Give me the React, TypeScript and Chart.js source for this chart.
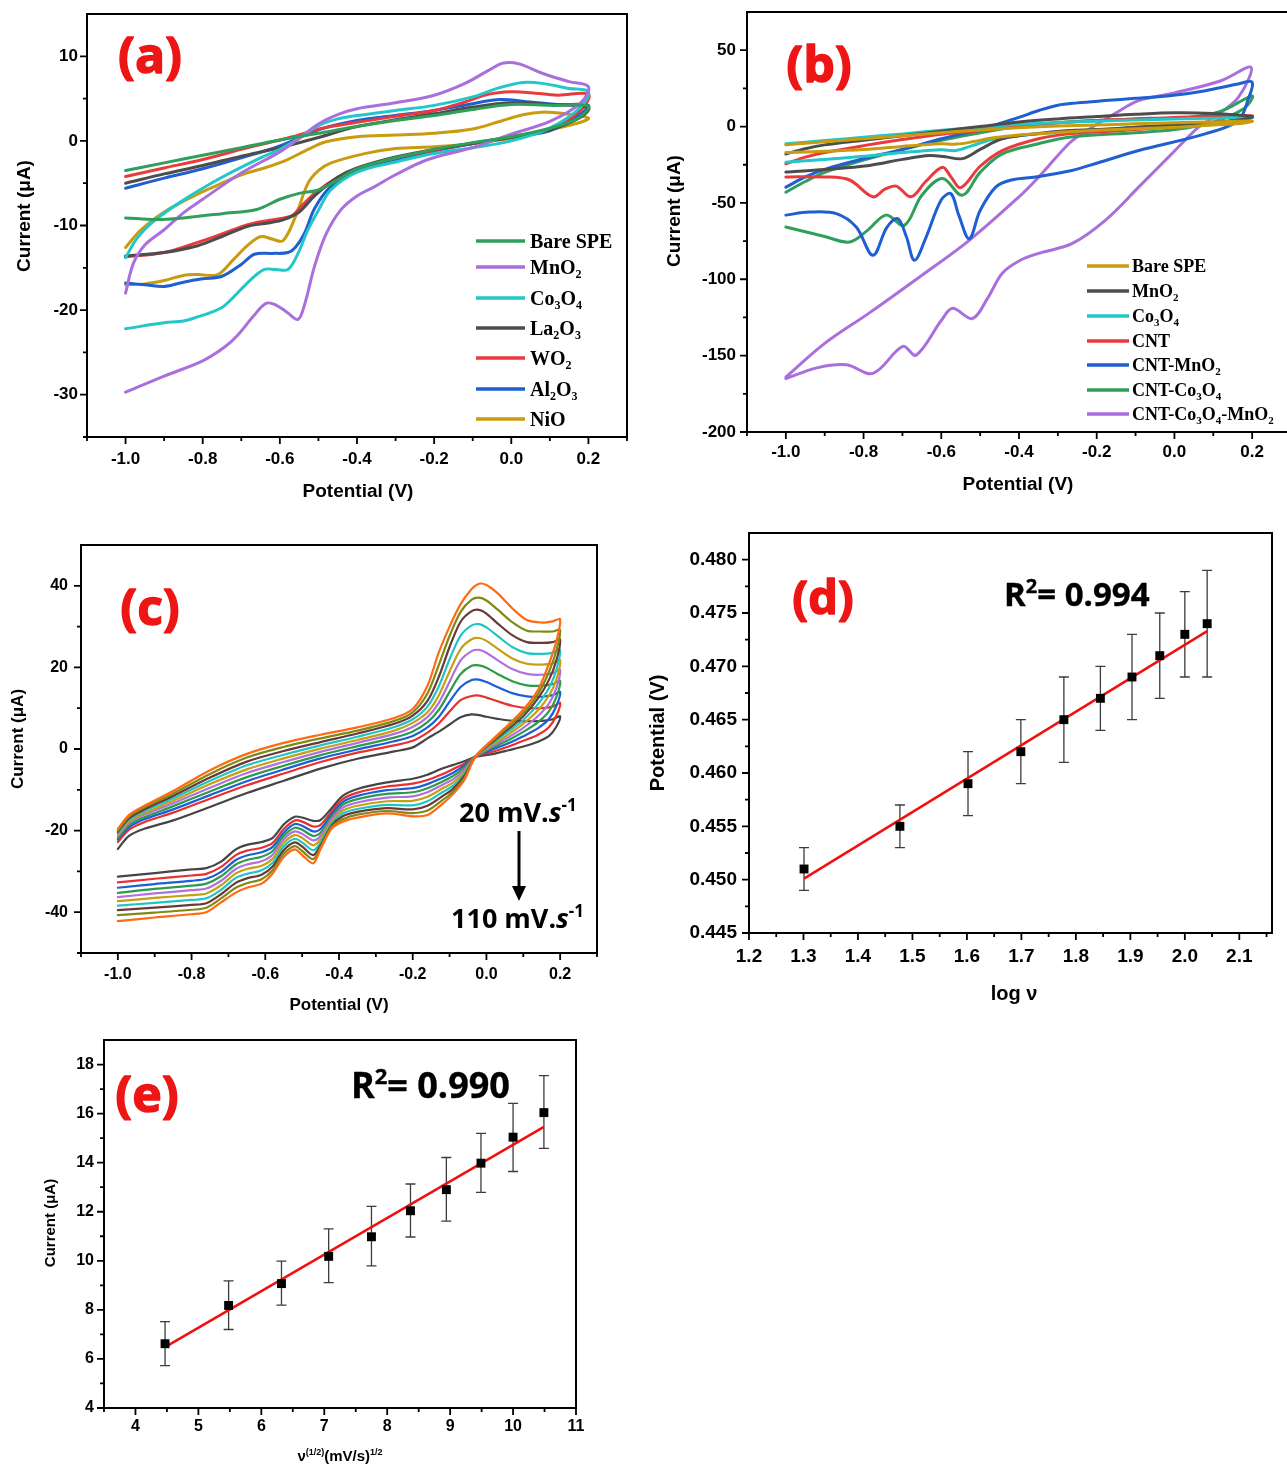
import React, { useEffect, useRef } from "react";
import { Chart, registerables } from "chart.js";

Chart.register(...registerables);

type Pt = [number, number];

const SANS = '"Liberation Sans", Arial, Helvetica, sans-serif';
const SERIF = '"Liberation Serif", "Times New Roman", serif';
const TAG = '"Open Sans", "Liberation Sans", sans-serif';
const RED_TAG = "#ee1515";

/* ---------- (a) oxide-modified SPEs: [potential V, current µA], forward sweep then reverse ---------- */
const A_BARE_SPE: Pt[] = [[-1.0,-3.5],[-0.9,-2.6],[-0.8,-1.7],[-0.7,-0.8],[-0.6,0.1],[-0.5,0.9],[-0.4,1.7],[-0.3,2.4],[-0.2,3.0],[-0.1,3.7],[0.0,4.3],[0.1,4.2],[0.2,4.1],[0.17,2.6],[0.1,1.5],[0.0,0.5],[-0.1,-0.2],[-0.2,-1.0],[-0.3,-2.0],[-0.4,-3.3],[-0.45,-4.6],[-0.5,-5.8],[-0.55,-6.2],[-0.6,-6.9],[-0.66,-8.1],[-0.75,-8.6],[-0.85,-9.1],[-0.92,-9.3],[-1.0,-9.1]];
const A_MNO2: Pt[] = [[-1.0,-18.0],[-0.98,-14.5],[-0.95,-12.3],[-0.9,-10.5],[-0.85,-8.5],[-0.8,-6.9],[-0.7,-3.8],[-0.6,-1.3],[-0.55,0.3],[-0.5,2.0],[-0.45,3.1],[-0.4,3.8],[-0.3,4.5],[-0.2,5.4],[-0.12,6.8],[-0.06,8.3],[-0.02,9.2],[0.02,9.1],[0.08,8.0],[0.15,7.0],[0.2,6.4],[0.18,4.5],[0.1,2.3],[0.0,0.8],[-0.1,-0.8],[-0.216,-2.2],[-0.3,-4.0],[-0.354,-5.4],[-0.4,-6.5],[-0.441,-8.1],[-0.48,-11.0],[-0.51,-14.8],[-0.535,-19.2],[-0.553,-21.1],[-0.58,-20.3],[-0.61,-19.4],[-0.636,-19.2],[-0.67,-20.8],[-0.71,-23.0],[-0.744,-24.4],[-0.8,-26.0],[-0.9,-27.8],[-1.0,-29.7]];
const A_CO3O4: Pt[] = [[-1.0,-13.8],[-0.97,-11.5],[-0.93,-9.6],[-0.85,-7.0],[-0.75,-4.3],[-0.65,-2.0],[-0.6,-1.0],[-0.55,0.3],[-0.5,1.8],[-0.45,2.6],[-0.4,3.0],[-0.3,3.6],[-0.2,4.2],[-0.1,5.2],[-0.03,6.3],[0.03,6.9],[0.08,6.8],[0.15,6.2],[0.2,5.8],[0.18,4.0],[0.1,1.5],[0.0,0.0],[-0.1,-0.8],[-0.2,-1.5],[-0.3,-2.5],[-0.4,-3.7],[-0.468,-5.8],[-0.5,-8.2],[-0.527,-10.5],[-0.555,-13.5],[-0.579,-15.2],[-0.61,-15.2],[-0.64,-15.2],[-0.68,-16.6],[-0.744,-19.5],[-0.78,-20.3],[-0.813,-20.8],[-0.85,-21.3],[-0.9,-21.5],[-1.0,-22.2]];
const A_LA2O3: Pt[] = [[-1.0,-5.0],[-0.9,-3.9],[-0.8,-2.9],[-0.7,-1.8],[-0.6,-0.8],[-0.5,0.4],[-0.4,1.7],[-0.3,2.5],[-0.2,3.2],[-0.1,4.0],[0.0,4.5],[0.1,4.3],[0.2,3.9],[0.18,2.8],[0.1,1.3],[0.0,0.4],[-0.1,-0.3],[-0.2,-1.0],[-0.3,-1.9],[-0.4,-3.2],[-0.45,-4.3],[-0.51,-6.5],[-0.55,-8.4],[-0.59,-9.3],[-0.63,-9.7],[-0.683,-10.1],[-0.75,-11.3],[-0.813,-12.4],[-0.9,-13.2],[-1.0,-13.6]];
const A_WO2: Pt[] = [[-1.0,-4.2],[-0.9,-3.2],[-0.8,-2.2],[-0.7,-1.0],[-0.6,0.1],[-0.55,0.7],[-0.5,1.4],[-0.4,2.2],[-0.3,2.9],[-0.2,3.6],[-0.12,4.6],[-0.06,5.5],[0.0,5.8],[0.05,5.7],[0.12,5.4],[0.2,5.5],[0.18,3.6],[0.1,1.4],[0.0,0.5],[-0.1,-0.3],[-0.2,-1.1],[-0.3,-2.0],[-0.4,-3.3],[-0.45,-4.3],[-0.51,-6.2],[-0.55,-8.0],[-0.571,-8.9],[-0.63,-9.4],[-0.683,-9.9],[-0.75,-11.0],[-0.813,-12.0],[-0.9,-13.2],[-1.0,-13.7]];
const A_AL2O3: Pt[] = [[-1.0,-5.6],[-0.9,-4.4],[-0.8,-3.3],[-0.7,-2.0],[-0.6,-0.6],[-0.5,1.3],[-0.4,2.4],[-0.3,3.0],[-0.2,3.6],[-0.1,4.4],[-0.03,4.9],[0.05,4.6],[0.12,4.3],[0.2,4.2],[0.18,3.2],[0.1,1.2],[0.0,0.5],[-0.1,-0.3],[-0.2,-1.2],[-0.3,-2.3],[-0.4,-3.6],[-0.47,-5.5],[-0.51,-8.0],[-0.536,-10.9],[-0.56,-12.6],[-0.579,-13.2],[-0.62,-13.3],[-0.666,-13.4],[-0.7,-14.6],[-0.75,-16.0],[-0.8,-16.3],[-0.85,-16.7],[-0.9,-17.2],[-0.95,-17.0],[-1.0,-16.8]];
const A_NIO: Pt[] = [[-1.0,-12.6],[-0.96,-10.5],[-0.9,-8.4],[-0.8,-6.0],[-0.75,-5.0],[-0.7,-4.0],[-0.64,-3.2],[-0.58,-2.2],[-0.527,-1.0],[-0.48,-0.1],[-0.4,0.5],[-0.3,0.7],[-0.2,0.9],[-0.1,1.4],[-0.03,2.3],[0.03,3.1],[0.08,3.4],[0.14,3.2],[0.2,2.7],[0.18,2.2],[0.1,1.3],[0.0,0.3],[-0.1,-0.3],[-0.2,-0.7],[-0.3,-0.9],[-0.38,-1.5],[-0.467,-2.6],[-0.5,-3.5],[-0.527,-5.0],[-0.56,-9.0],[-0.592,-11.8],[-0.62,-11.6],[-0.649,-11.3],[-0.68,-12.2],[-0.72,-14.0],[-0.761,-15.8],[-0.813,-15.8],[-0.85,-15.9],[-0.9,-16.5],[-0.95,-16.9],[-1.0,-17.0]];

const A_NAMES = ["Bare SPE", "MnO_{2}", "Co_{3}O_{4}", "La_{2}O_{3}", "WO_{2}", "Al_{2}O_{3}", "NiO"];
const A_COLORS = ["#2f9f5c", "#a96fdc", "#22c7c9", "#4d4d4d", "#ea3a3d", "#1f5fd2", "#c99b0e"];
const A_CURVES = [A_BARE_SPE, A_MNO2, A_CO3O4, A_LA2O3, A_WO2, A_AL2O3, A_NIO];

/* ---------- (b) CNT composites ---------- */
const B_BARE_SPE: Pt[] = [[-1.0,-12.0],[-0.9,-10.0],[-0.8,-8.0],[-0.7,-6.0],[-0.6,-4.0],[-0.5,-2.2],[-0.4,-0.8],[-0.3,0.3],[-0.2,1.0],[-0.1,1.8],[0.0,2.5],[0.1,3.0],[0.2,3.5],[0.17,2.0],[0.1,1.0],[0.0,-0.5],[-0.1,-1.5],[-0.2,-2.5],[-0.3,-3.8],[-0.4,-5.5],[-0.47,-7.5],[-0.52,-10.0],[-0.56,-11.5],[-0.6,-11.3],[-0.65,-12.0],[-0.7,-13.0],[-0.8,-15.0],[-0.9,-16.2],[-1.0,-17.0]];
const B_MNO2: Pt[] = [[-1.0,-18.0],[-0.95,-14.5],[-0.9,-12.0],[-0.8,-9.0],[-0.7,-6.0],[-0.6,-3.0],[-0.5,0.0],[-0.4,3.0],[-0.3,5.0],[-0.2,6.5],[-0.1,8.0],[0.0,9.0],[0.1,8.5],[0.2,6.5],[0.17,4.5],[0.1,2.5],[0.0,1.0],[-0.1,-0.5],[-0.2,-2.0],[-0.272,-2.6],[-0.35,-4.5],[-0.443,-8.0],[-0.5,-15.0],[-0.546,-21.0],[-0.59,-19.8],[-0.63,-19.0],[-0.7,-21.5],[-0.785,-25.5],[-0.9,-28.2],[-1.0,-29.8]];
const B_CO3O4: Pt[] = [[-1.0,-11.3],[-0.9,-9.2],[-0.8,-7.0],[-0.7,-4.8],[-0.6,-2.5],[-0.5,-0.5],[-0.4,1.5],[-0.3,2.6],[-0.2,3.5],[-0.1,4.3],[0.0,5.0],[0.1,5.5],[0.2,6.0],[0.17,4.0],[0.1,2.5],[0.0,1.0],[-0.1,-0.5],[-0.2,-2.0],[-0.3,-3.8],[-0.4,-6.0],[-0.47,-8.5],[-0.52,-12.5],[-0.562,-15.7],[-0.6,-15.2],[-0.65,-16.0],[-0.7,-17.0],[-0.8,-19.5],[-0.9,-21.5],[-1.0,-23.3]];
const B_CNT: Pt[] = [[-1.0,-24.4],[-0.95,-20.0],[-0.9,-17.0],[-0.8,-12.5],[-0.7,-8.5],[-0.6,-5.0],[-0.53,-3.5],[-0.4,0.5],[-0.3,2.5],[-0.2,4.0],[-0.1,5.0],[0.0,6.0],[0.1,6.5],[0.2,7.0],[0.17,5.0],[0.1,2.5],[0.0,0.0],[-0.1,-2.0],[-0.15,-2.8],[-0.272,-4.8],[-0.35,-8.0],[-0.443,-15.7],[-0.5,-26.0],[-0.55,-40.0],[-0.575,-33.0],[-0.597,-26.6],[-0.64,-36.0],[-0.678,-46.0],[-0.716,-39.0],[-0.745,-41.0],[-0.776,-46.0],[-0.836,-35.0],[-0.9,-33.0],[-1.0,-33.0]];
const B_CNT_MNO2: Pt[] = [[-1.0,-39.7],[-0.95,-33.0],[-0.9,-28.0],[-0.8,-21.0],[-0.7,-15.0],[-0.6,-8.0],[-0.5,-2.0],[-0.45,2.0],[-0.4,6.0],[-0.349,10.5],[-0.3,14.0],[-0.25,15.5],[-0.178,17.0],[-0.1,18.5],[-0.007,20.3],[0.08,23.5],[0.164,27.9],[0.2,29.0],[0.19,18.0],[0.164,3.9],[0.079,-4.8],[-0.092,-15.7],[-0.2,-24.0],[-0.264,-28.8],[-0.357,-33.0],[-0.42,-35.0],[-0.46,-39.7],[-0.5,-55.0],[-0.528,-73.4],[-0.555,-58.0],[-0.575,-44.0],[-0.6,-48.0],[-0.64,-73.0],[-0.669,-87.6],[-0.69,-72.0],[-0.712,-60.3],[-0.74,-66.0],[-0.776,-84.3],[-0.819,-65.8],[-0.87,-57.0],[-0.94,-56.0],[-1.0,-58.0]];
const B_CNT_CO3O4: Pt[] = [[-1.0,-43.0],[-0.95,-36.0],[-0.9,-30.0],[-0.8,-22.0],[-0.7,-15.0],[-0.6,-9.0],[-0.5,-4.0],[-0.4,0.0],[-0.3,2.5],[-0.2,4.0],[-0.1,5.0],[0.036,6.0],[0.12,10.0],[0.2,20.0],[0.18,12.0],[0.1,3.0],[0.0,-2.0],[-0.1,-4.0],[-0.272,-7.0],[-0.35,-11.3],[-0.443,-17.9],[-0.5,-30.0],[-0.546,-45.0],[-0.597,-34.0],[-0.65,-45.0],[-0.695,-64.7],[-0.742,-58.0],[-0.79,-68.0],[-0.836,-75.6],[-0.9,-72.0],[-1.0,-65.8]];
const B_CNT_CO3O4_MNO2: Pt[] = [[-1.0,-164.0],[-0.9,-142.0],[-0.785,-122.0],[-0.656,-98.5],[-0.528,-74.5],[-0.4,-46.0],[-0.349,-33.0],[-0.272,-11.3],[-0.238,-4.7],[-0.15,9.0],[-0.092,17.0],[0.0,22.0],[0.12,30.0],[0.197,38.8],[0.164,19.0],[0.1,6.0],[0.062,-0.4],[-0.007,-17.9],[-0.092,-39.7],[-0.178,-61.4],[-0.264,-76.7],[-0.349,-83.0],[-0.4,-88.0],[-0.443,-96.0],[-0.48,-112.0],[-0.52,-125.7],[-0.571,-119.0],[-0.6,-127.0],[-0.665,-149.7],[-0.699,-144.0],[-0.776,-161.6],[-0.844,-156.0],[-0.92,-158.0],[-1.0,-165.0]];

const B_NAMES = ["Bare SPE", "MnO_{2}", "Co_{3}O_{4}", "CNT", "CNT-MnO_{2}", "CNT-Co_{3}O_{4}", "CNT-Co_{3}O_{4}-MnO_{2}"];
const B_COLORS = ["#c99b0e", "#4d4d4d", "#22c7c9", "#ea3a3d", "#1f5fd2", "#2f9f5c", "#a96fdc"];
const B_CURVES = [B_BARE_SPE, B_MNO2, B_CO3O4, B_CNT, B_CNT_MNO2, B_CNT_CO3O4, B_CNT_CO3O4_MNO2];

/* ---------- (c) scan-rate series, 20 → 110 mV/s ---------- */
const C_RATES = [20, 30, 40, 50, 60, 70, 80, 90, 100, 110];
const C_COLORS = ["#454545", "#e8302e", "#1b5fd6", "#2e9a48", "#b070e0", "#c5a012", "#20c4c4", "#6b3838", "#7f8a14", "#ff6a12"];
const C_FWD_E = [-1.0, -0.97, -0.93, -0.85, -0.75, -0.65, -0.55, -0.45, -0.35, -0.25, -0.2, -0.16, -0.13, -0.1, -0.07, -0.04, -0.02, 0.0, 0.03, 0.07, 0.11, 0.15, 0.18, 0.2];
const C_FWD_20 = [-24.5,-21.3,-19.6,-17.5,-14.2,-10.8,-7.8,-4.8,-2.4,-0.6,0.4,2.6,4.2,6.0,7.8,8.5,8.3,7.9,7.4,6.9,6.8,6.9,7.3,8.0];
const C_FWD_30 = [-22.8,-19.8,-18.0,-15.6,-12.2,-8.9,-6.0,-3.2,-0.9,0.9,2.0,4.0,6.2,9.2,12.0,13.0,13.1,12.6,11.7,10.6,10.0,10.0,10.4,11.3];
const C_FWD_40 = [-22.2,-19.2,-17.3,-14.8,-11.3,-7.9,-5.0,-2.3,-0.1,1.9,3.2,5.3,7.8,11.6,15.2,16.9,17.0,16.4,15.2,13.7,12.9,12.8,13.2,14.0];
const C_FWD_50 = [-21.8,-18.7,-16.8,-14.0,-10.4,-6.9,-4.1,-1.5,0.7,2.8,4.3,6.6,9.5,14.0,18.4,20.4,20.5,19.9,18.4,16.6,15.6,15.5,15.9,16.7];
const C_FWD_60 = [-21.3,-18.2,-16.2,-13.3,-9.5,-5.9,-3.2,-0.7,1.5,3.7,5.4,7.8,11.2,16.5,21.7,24.0,24.3,23.6,21.8,19.6,18.4,18.2,18.6,19.4];
const C_FWD_70 = [-21.0,-17.8,-15.8,-12.7,-8.6,-5.0,-2.3,0.1,2.2,4.5,6.4,9.0,13.0,19.0,24.5,26.9,27.2,26.5,24.6,22.2,20.9,20.7,21.0,21.8];
const C_FWD_80 = [-20.6,-17.4,-15.3,-12.1,-7.8,-4.0,-1.4,0.9,3.0,5.4,7.3,10.4,15.2,22.0,27.8,30.3,30.6,29.8,27.7,25.0,23.5,23.3,23.6,24.3];
const C_FWD_90 = [-20.3,-17.0,-14.9,-11.5,-7.0,-3.1,-0.5,1.7,3.8,6.2,8.2,11.8,17.5,25.0,31.2,33.8,34.1,33.2,30.8,27.9,26.2,26.0,26.2,26.8];
const C_FWD_100 = [-20.0,-16.6,-14.4,-10.9,-6.1,-2.1,0.5,2.6,4.5,6.9,9.0,13.6,20.4,27.7,33.6,36.6,37.1,36.4,34.2,31.1,29.0,28.8,28.8,29.2];
const C_FWD_110 = [-19.6,-16.2,-14.0,-10.3,-5.2,-1.2,1.5,3.5,5.3,7.6,9.8,15.5,23.5,30.0,35.5,39.2,40.5,40.2,38.2,34.5,31.6,31.0,31.3,31.8];
const C_REV_E = [0.2, 0.19, 0.17, 0.14, 0.1, 0.06, 0.02, -0.03, -0.06, -0.09, -0.12, -0.16, -0.2, -0.27, -0.35, -0.39, -0.42, -0.45, -0.47, -0.5, -0.52, -0.55, -0.58, -0.61, -0.65, -0.68, -0.72, -0.76, -0.8, -0.9, -1.0];
const C_REV_20 = [8.0,5.5,3.2,1.8,0.6,-0.3,-1.2,-1.9,-3.0,-3.9,-4.8,-6.3,-7.3,-8.2,-9.8,-11.5,-14.5,-17.4,-17.6,-16.8,-16.6,-18.5,-21.8,-22.8,-23.5,-24.6,-27.6,-29.2,-29.5,-30.4,-31.3];
const C_REV_30 = [11.3,8.2,5.4,3.5,2.0,0.6,-0.6,-1.9,-3.6,-4.9,-6.2,-7.6,-8.5,-9.2,-10.7,-12.3,-15.3,-18.6,-19.0,-17.8,-17.5,-19.6,-23.0,-24.2,-24.9,-26.0,-28.9,-30.6,-31.0,-31.8,-32.7];
const C_REV_40 = [14.0,10.6,7.4,5.1,3.1,1.4,0.0,-1.9,-4.1,-5.8,-7.1,-8.6,-9.6,-10.1,-11.5,-13.0,-16.0,-19.6,-20.2,-18.8,-18.4,-20.5,-24.0,-25.3,-26.1,-27.2,-30.1,-31.8,-32.3,-33.1,-34.0];
const C_REV_50 = [16.7,12.8,9.3,6.6,4.2,2.2,0.5,-1.9,-4.6,-6.6,-8.0,-9.6,-10.6,-11.0,-12.3,-13.7,-16.6,-20.5,-21.3,-19.8,-19.3,-21.3,-25.0,-26.4,-27.2,-28.3,-31.2,-33.0,-33.5,-34.3,-35.3];
const C_REV_60 = [19.4,15.0,11.2,8.1,5.2,2.9,0.9,-1.9,-5.1,-7.4,-8.8,-10.6,-11.6,-11.9,-13.1,-14.4,-17.2,-21.3,-22.4,-20.8,-20.2,-22.1,-25.9,-27.5,-28.3,-29.4,-32.3,-34.2,-34.6,-35.4,-36.3];
const C_REV_70 = [21.8,17.1,13.1,9.5,6.2,3.6,1.3,-1.9,-5.6,-8.2,-9.7,-11.7,-12.7,-12.8,-13.9,-15.1,-17.8,-22.1,-23.6,-21.8,-21.1,-23.0,-26.9,-28.6,-29.4,-30.5,-33.4,-35.4,-35.8,-36.5,-37.3];
const C_REV_80 = [24.3,19.5,15.0,11.0,7.1,4.3,1.7,-1.9,-6.1,-9.0,-10.6,-12.8,-13.8,-13.7,-14.7,-15.8,-18.3,-22.9,-24.8,-22.9,-22.0,-23.9,-27.9,-29.7,-30.6,-31.6,-34.5,-36.6,-37.0,-37.7,-38.4];
const C_REV_90 = [26.8,21.8,17.0,12.4,8.0,4.9,2.0,-1.9,-6.6,-9.7,-11.6,-13.9,-14.8,-14.5,-15.4,-16.5,-18.8,-23.6,-26.0,-23.9,-22.9,-24.8,-28.8,-30.8,-31.7,-32.8,-35.6,-37.8,-38.2,-38.9,-39.5];
const C_REV_100 = [29.2,24.2,19.0,13.5,8.8,5.5,2.3,-1.9,-7.1,-10.4,-12.6,-15.1,-15.7,-15.2,-16.1,-17.2,-19.1,-24.1,-27.0,-25.0,-23.8,-25.7,-29.7,-31.9,-32.9,-34.0,-36.6,-38.9,-39.4,-40.1,-40.7];
const C_REV_110 = [31.8,26.5,21.0,14.5,9.6,6.0,2.6,-1.9,-7.6,-11.0,-13.5,-16.2,-16.5,-15.8,-16.8,-17.8,-19.5,-24.5,-28.0,-26.0,-24.6,-26.5,-30.5,-33.0,-34.0,-35.2,-37.6,-40.0,-40.5,-41.3,-42.2];
const C_FWD = [C_FWD_20, C_FWD_30, C_FWD_40, C_FWD_50, C_FWD_60, C_FWD_70, C_FWD_80, C_FWD_90, C_FWD_100, C_FWD_110];
const C_REV = [C_REV_20, C_REV_30, C_REV_40, C_REV_50, C_REV_60, C_REV_70, C_REV_80, C_REV_90, C_REV_100, C_REV_110];

/* ---------- (d) peak potential vs log(scan rate) ---------- */
const D_LOGV = [1.301, 1.477, 1.602, 1.699, 1.778, 1.845, 1.903, 1.954, 2.0, 2.041];
const D_EP = [0.451, 0.455, 0.459, 0.462, 0.465, 0.467, 0.469, 0.471, 0.473, 0.474];
const D_HI = [0.453, 0.457, 0.462, 0.465, 0.469, 0.470, 0.473, 0.475, 0.477, 0.479];
const D_LO = [0.449, 0.453, 0.456, 0.459, 0.461, 0.464, 0.465, 0.467, 0.469, 0.469];
const D_FIT: Pt[] = [[1.301, 0.4501], [2.041, 0.4733]];

/* ---------- (e) peak current vs square root of scan rate ---------- */
const E_SQRTV = [4.47, 5.48, 6.32, 7.07, 7.75, 8.37, 8.94, 9.49, 10.0, 10.49];
const E_IP = [6.62, 8.18, 9.07, 10.18, 10.98, 12.04, 12.9, 13.98, 15.04, 16.04];
const E_HI = [7.52, 9.18, 9.99, 11.3, 12.22, 13.13, 14.21, 15.19, 16.42, 17.55];
const E_LO = [5.73, 7.2, 8.19, 9.11, 9.79, 10.97, 11.62, 12.79, 13.64, 14.58];
const E_FIT: Pt[] = [[4.47, 6.48], [10.49, 15.46]];

/* ---------- text helpers: _{..} subscript, ^{..} superscript, ~{..} italic ---------- */
type Txt = { s: string; x: number; y: number; size: number; font: string; weight?: string; color?: string; align?: "left" | "center" | "right"; rot?: boolean; heavy?: number };

function segments(s: string) {
  const out: { t: string; k: number }[] = [];
  const re = /([_^~])\{([^}]*)\}/g;
  let last = 0;
  let m: RegExpExecArray | null;
  while ((m = re.exec(s))) {
    if (m.index > last) out.push({ t: s.slice(last, m.index), k: 0 });
    out.push({ t: m[2], k: m[1] === "_" ? 1 : m[1] === "^" ? 2 : 3 });
    last = re.lastIndex;
  }
  if (last < s.length) out.push({ t: s.slice(last), k: 0 });
  return out;
}

function drawRich(ctx: CanvasRenderingContext2D, t: Txt) {
  const segs = segments(t.s);
  const w = t.weight ?? "bold";
  const fontFor = (k: number) => `${k === 3 ? "italic " : ""}${w} ${k === 1 || k === 2 ? Math.round(t.size * 0.62) : t.size}px ${t.font}`;
  let total = 0;
  for (const p of segs) { ctx.font = fontFor(p.k); total += ctx.measureText(p.t).width; }
  ctx.save();
  ctx.fillStyle = t.color ?? "#000";
  ctx.strokeStyle = t.color ?? "#000";
  ctx.lineJoin = "round";
  ctx.textAlign = "left";
  ctx.textBaseline = "alphabetic";
  let x0: number;
  let y0: number;
  if (t.rot) {
    ctx.translate(t.x, t.y);
    ctx.rotate(-Math.PI / 2);
    x0 = -total / 2;
    y0 = t.size * 0.36;
  } else {
    x0 = t.align === "center" ? t.x - total / 2 : t.align === "right" ? t.x - total : t.x;
    y0 = t.y;
  }
  for (const p of segs) {
    ctx.font = fontFor(p.k);
    const dy = p.k === 1 ? t.size * 0.24 : p.k === 2 ? -t.size * 0.4 : 0;
    if (t.heavy) {
      ctx.lineWidth = t.heavy;
      ctx.strokeText(p.t, x0, y0 + dy);
    }
    ctx.fillText(p.t, x0, y0 + dy);
    x0 += ctx.measureText(p.t).width;
  }
  ctx.restore();
}

/* ---------- panel description ---------- */
type Axis = { min: number; max: number; major: number[]; minor: number[]; digits: number };
type Legend = { x1: number; x2: number; tx: number; rows: number[]; names: string[]; colors: string[]; size: number };
type Panel = {
  box: [number, number, number, number];
  area: [number, number, number, number];
  x: Axis;
  y: Axis;
  tick: number;
  xGap: number;
  yGap: number;
  datasets: any[];
  texts: Txt[];
  legend?: Legend;
  under?: (chart: any) => void;
  extra?: (ctx: CanvasRenderingContext2D) => void;
};

const cv = (pts: Pt[], color: string, width: number, tension = 0.35) => ({
  data: pts.map(([x, y]) => ({ x, y })),
  showLine: true,
  borderColor: color,
  backgroundColor: color,
  borderWidth: width,
  pointRadius: 0,
  tension,
  borderJoinStyle: "round",
  borderCapStyle: "round",
});

const steps = (a: number, b: number, d: number) => {
  const out: number[] = [];
  for (let v = a; v <= b + d * 1e-6; v += d) out.push(Math.round(v * 1e6) / 1e6);
  return out;
};

const errorBars = (xv: number[], hi: number[], lo: number[]) => (chart: any) => {
  const ctx = chart.ctx as CanvasRenderingContext2D;
  const xs = chart.scales.x;
  const ys = chart.scales.y;
  ctx.save();
  ctx.strokeStyle = "#3c3c3c";
  ctx.lineWidth = 1.3;
  ctx.beginPath();
  xv.forEach((v, i) => {
    const px = xs.getPixelForValue(v);
    const ph = ys.getPixelForValue(hi[i]);
    const pl = ys.getPixelForValue(lo[i]);
    ctx.moveTo(px, ph); ctx.lineTo(px, pl);
    ctx.moveTo(px - 5, ph); ctx.lineTo(px + 5, ph);
    ctx.moveTo(px - 5, pl); ctx.lineTo(px + 5, pl);
  });
  ctx.stroke();
  ctx.restore();
};

const fitSet = (pts: Pt[]) => ({
  data: pts.map(([x, y]) => ({ x, y })),
  showLine: true,
  borderColor: "#f01010",
  borderWidth: 2.5,
  pointRadius: 0,
});
const markSet = (xv: number[], yv: number[]) => ({
  data: xv.map((x, i) => ({ x, y: yv[i] })),
  showLine: false,
  pointStyle: "rect",
  pointRadius: 6.3,
  pointBackgroundColor: "#000",
  pointBorderColor: "#000",
  pointBorderWidth: 0,
});

const POT_AXIS: Axis = { min: -1.1, max: 0.3, major: steps(-1.0, 0.2, 0.2), minor: steps(-1.1, 0.3, 0.2), digits: 1 };

const PANELS: Panel[] = [
  {
    box: [0, 0, 640, 510],
    area: [87, 14, 627, 437],
    x: POT_AXIS,
    y: { min: -35, max: 15, major: steps(-30, 10, 10), minor: steps(-35, 5, 10), digits: 0 },
    tick: 17, xGap: 22, yGap: 9,
    datasets: A_CURVES.map((c, i) => cv(c, A_COLORS[i], 3)),
    texts: [
      { s: "(a)", x: 150, y: 73, size: 50, font: TAG, color: RED_TAG, align: "center", heavy: 1.4 },
      { s: "Current (μA)", x: 23, y: 216, size: 19, font: SANS, rot: true },
      { s: "Potential (V)", x: 358, y: 497, size: 19, font: SANS, align: "center" },
    ],
    legend: { x1: 476, x2: 525, tx: 530, rows: [241, 267, 298, 328, 358, 389, 419], names: A_NAMES, colors: A_COLORS, size: 20 },
  },
  {
    box: [640, 0, 660, 510],
    area: [747, 12, 1291, 432],
    x: POT_AXIS,
    y: { min: -200, max: 75, major: steps(-200, 50, 50), minor: steps(-175, 25, 50), digits: 0 },
    tick: 17, xGap: 20, yGap: 11,
    datasets: B_CURVES.map((c, i) => cv(c, B_COLORS[i], 3)),
    texts: [
      { s: "(b)", x: 819, y: 82, size: 50, font: TAG, color: RED_TAG, align: "center", heavy: 1.4 },
      { s: "Current (μA)", x: 673, y: 211, size: 19, font: SANS, rot: true },
      { s: "Potential (V)", x: 1018, y: 490, size: 19, font: SANS, align: "center" },
    ],
    legend: { x1: 1087, x2: 1129, tx: 1132, rows: [266, 291, 316, 341, 365, 390, 414], names: B_NAMES, colors: B_COLORS, size: 18 },
  },
  {
    box: [0, 520, 640, 510],
    area: [81, 545, 597, 953],
    x: POT_AXIS,
    y: { min: -50, max: 50, major: steps(-40, 40, 20), minor: steps(-50, 30, 20), digits: 0 },
    tick: 16, xGap: 22, yGap: 13,
    datasets: C_RATES.map((_, i) =>
      cv(
        [
          ...C_FWD_E.map((e, j) => [e, C_FWD[i][j]] as Pt),
          ...C_REV_E.slice(1).map((e, j) => [e, C_REV[i][j + 1]] as Pt),
        ],
        C_COLORS[i],
        2.2,
        0.3
      )
    ).reverse(),
    texts: [
      { s: "(c)", x: 150, y: 625, size: 50, font: TAG, color: RED_TAG, align: "center", heavy: 1.4 },
      { s: "Current (μA)", x: 17, y: 739, size: 17, font: SANS, rot: true },
      { s: "Potential (V)", x: 339, y: 1010, size: 17, font: SANS, align: "center" },
      { s: "20 mV.~{s}^{-1}", x: 459, y: 822, size: 27, font: TAG, weight: "bold" },
      { s: "110 mV.~{s}^{-1}", x: 451, y: 928, size: 27, font: TAG, weight: "bold" },
    ],
    extra: (ctx) => {
      ctx.save();
      ctx.strokeStyle = "#000";
      ctx.fillStyle = "#000";
      ctx.lineWidth = 3;
      ctx.beginPath();
      ctx.moveTo(519, 831);
      ctx.lineTo(519, 888);
      ctx.stroke();
      ctx.beginPath();
      ctx.moveTo(512, 886);
      ctx.lineTo(526, 886);
      ctx.lineTo(519, 901);
      ctx.closePath();
      ctx.fill();
      ctx.restore();
    },
  },
  {
    box: [640, 520, 647, 510],
    area: [749, 533, 1272, 933],
    x: { min: 1.2, max: 2.16, major: steps(1.2, 2.1, 0.1), minor: steps(1.25, 2.15, 0.1), digits: 1 },
    y: { min: 0.445, max: 0.4825, major: steps(0.445, 0.48, 0.005), minor: steps(0.4475, 0.4775, 0.005), digits: 3 },
    tick: 19, xGap: 24, yGap: 12,
    datasets: [markSet(D_LOGV, D_EP), fitSet(D_FIT)],
    under: errorBars(D_LOGV, D_HI, D_LO),
    texts: [
      { s: "(d)", x: 823, y: 614, size: 47, font: TAG, color: RED_TAG, align: "center", heavy: 1.4 },
      { s: "R^{2}= 0.994", x: 1004, y: 606, size: 33, font: TAG, weight: "bold", heavy: 0.4 },
      { s: "Potential (V)", x: 657, y: 733, size: 20, font: SANS, rot: true },
      { s: "log ν", x: 1014, y: 1000, size: 20, font: SANS, align: "center" },
    ],
  },
  {
    box: [0, 1030, 640, 437],
    area: [104, 1040, 576, 1408],
    x: { min: 3.5, max: 11, major: steps(4, 11, 1), minor: steps(3.5, 10.5, 1), digits: 0 },
    y: { min: 4, max: 19, major: steps(4, 18, 2), minor: steps(5, 17, 2), digits: 0 },
    tick: 16, xGap: 19, yGap: 10,
    datasets: [markSet(E_SQRTV, E_IP), fitSet(E_FIT)],
    under: errorBars(E_SQRTV, E_HI, E_LO),
    texts: [
      { s: "(e)", x: 147, y: 1112, size: 50, font: TAG, color: RED_TAG, align: "center", heavy: 1.4 },
      { s: "R^{2}= 0.990", x: 351, y: 1098, size: 36, font: TAG, weight: "bold", heavy: 0.4 },
      { s: "Current (μA)", x: 50, y: 1223, size: 15, font: SANS, rot: true },
      { s: "ν^{(1/2)}(mV/s)^{1/2}", x: 340, y: 1461, size: 15, font: SANS, align: "center" },
    ],
  },
];

function overlay(p: Panel) {
  return {
    id: "panelFrame",
    beforeDatasetsDraw(chart: any) {
      if (p.under) p.under(chart);
    },
    afterDraw(chart: any) {
      const ctx = chart.ctx as CanvasRenderingContext2D;
      const { left, top, right, bottom } = chart.chartArea;
      const xs = chart.scales.x;
      const ys = chart.scales.y;
      ctx.save();
      ctx.strokeStyle = "#000";
      ctx.lineWidth = 2;
      ctx.strokeRect(left, top, right - left, bottom - top);

      ctx.lineWidth = 1.8;
      ctx.beginPath();
      p.x.major.forEach((v) => { const q = xs.getPixelForValue(v); ctx.moveTo(q, bottom); ctx.lineTo(q, bottom + 7); });
      p.x.minor.forEach((v) => { const q = xs.getPixelForValue(v); ctx.moveTo(q, bottom); ctx.lineTo(q, bottom + 4); });
      p.y.major.forEach((v) => { const q = ys.getPixelForValue(v); ctx.moveTo(left, q); ctx.lineTo(left - 7, q); });
      p.y.minor.forEach((v) => { const q = ys.getPixelForValue(v); ctx.moveTo(left, q); ctx.lineTo(left - 4, q); });
      ctx.stroke();

      ctx.fillStyle = "#000";
      ctx.font = `bold ${p.tick}px ${SANS}`;
      ctx.textBaseline = "middle";
      ctx.textAlign = "center";
      p.x.major.forEach((v) => ctx.fillText(v.toFixed(p.x.digits), xs.getPixelForValue(v), bottom + p.xGap));
      ctx.textAlign = "right";
      p.y.major.forEach((v) => ctx.fillText(v.toFixed(p.y.digits), left - p.yGap, ys.getPixelForValue(v)));

      ctx.translate(-p.box[0], -p.box[1]);
      p.texts.forEach((t) => drawRich(ctx, t));
      if (p.legend) {
        const L = p.legend;
        L.rows.forEach((ry, i) => {
          ctx.strokeStyle = L.colors[i];
          ctx.lineWidth = 3.5;
          ctx.beginPath();
          ctx.moveTo(L.x1, ry);
          ctx.lineTo(L.x2, ry);
          ctx.stroke();
          drawRich(ctx, { s: L.names[i], x: L.tx, y: ry + L.size * 0.33, size: L.size, font: SERIF });
        });
      }
      if (p.extra) p.extra(ctx);
      ctx.restore();
    },
  };
}

function PanelChart({ p }: { p: Panel }) {
  const ref = useRef<HTMLCanvasElement>(null);
  const [bl, bt, bw, bh] = p.box;
  useEffect(() => {
    const [al, at, ar, ab] = p.area;
    const chart = new Chart(ref.current as HTMLCanvasElement, {
      type: "scatter",
      data: { datasets: p.datasets },
      options: {
        animation: false,
        responsive: false,
        maintainAspectRatio: false,
        events: [],
        layout: { padding: { left: al - bl, top: at - bt, right: bl + bw - ar, bottom: bt + bh - ab } },
        plugins: { legend: { display: false }, tooltip: { enabled: false } },
        scales: {
          x: { type: "linear", display: false, min: p.x.min, max: p.x.max },
          y: { type: "linear", display: false, min: p.y.min, max: p.y.max },
        },
      } as any,
      plugins: [overlay(p)],
    });
    return () => chart.destroy();
  }, []);
  return (
    <canvas
      ref={ref}
      width={bw}
      height={bh}
      style={{ position: "absolute", left: bl, top: bt, width: bw, height: bh }}
    />
  );
}

export default function App() {
  return (
    <div style={{ position: "absolute", left: 0, top: 0, width: 1287, height: 1467, overflow: "hidden", background: "#fff" }}>
      {PANELS.map((p, i) => (
        <PanelChart key={i} p={p} />
      ))}
    </div>
  );
}
